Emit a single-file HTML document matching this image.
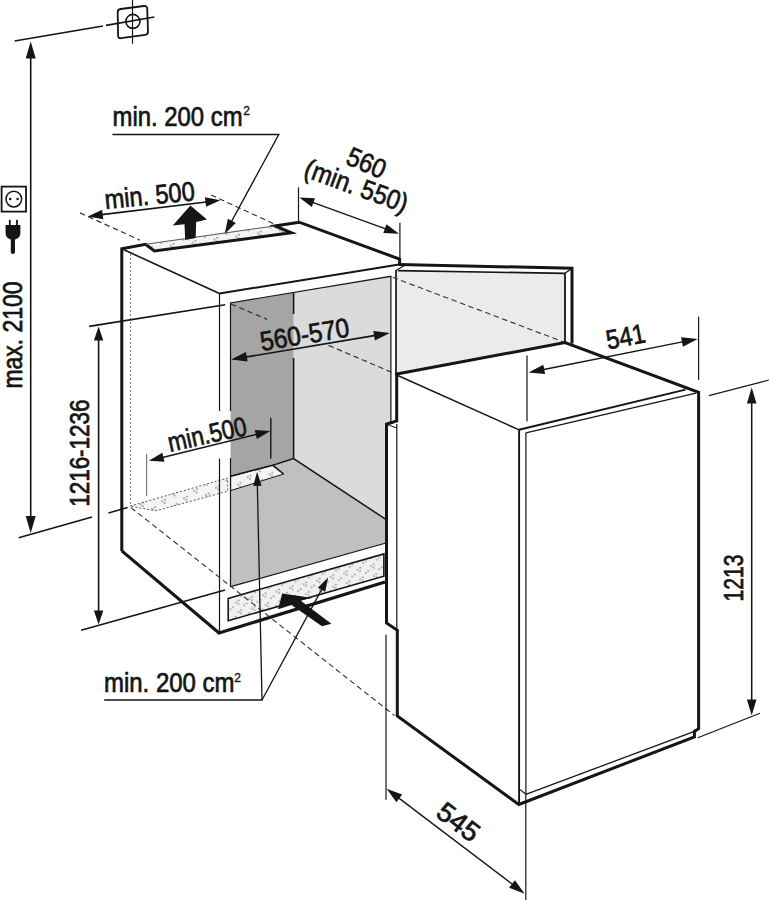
<!DOCTYPE html>
<html><head><meta charset="utf-8"><title>Installation dimensions</title>
<style>
html,body{margin:0;padding:0;background:#fff;}
body{width:769px;height:900px;overflow:hidden;}
svg{display:block;}
text{font-family:"Liberation Sans",sans-serif;font-size:27px;fill:#151515;stroke:#151515;stroke-width:0.7px;}
</style></head>
<body>
<svg width="769" height="900" viewBox="0 0 769 900">
<defs>
<pattern id="dots" width="22" height="12" patternUnits="userSpaceOnUse" patternTransform="rotate(-8)">
<rect width="22" height="12" fill="#f4f4f4"/>
<g fill="#555">
<circle cx="3" cy="3" r="0.75"/><circle cx="6" cy="1.8" r="0.75"/><circle cx="5" cy="5" r="0.75"/>
<circle cx="14" cy="9" r="0.75"/><circle cx="17" cy="7.8" r="0.75"/><circle cx="16" cy="11" r="0.75"/>
</g>
</pattern>
<pattern id="dots2" width="14" height="10" patternUnits="userSpaceOnUse" patternTransform="rotate(-15)">
<rect width="14" height="10" fill="#f0f0f0"/>
<g fill="#555">
<circle cx="2" cy="3" r="0.7"/><circle cx="5" cy="1.8" r="0.7"/><circle cx="4" cy="5" r="0.7"/>
<circle cx="9" cy="8" r="0.7"/><circle cx="12" cy="6.8" r="0.7"/>
</g>
</pattern>
</defs>
<rect width="769" height="900" fill="#fff"/>

<!-- ============ GRAY FILLS ============ -->
<!-- back wall -->
<polygon points="293.6,292.4 390.9,276.3 390.9,522.7 293.6,458.6" fill="#dbdbdb"/>
<!-- left wall -->
<polygon points="230.5,302.9 293.6,292.4 293.6,458.6 230.6,476.3" fill="#a5a5a5"/>
<!-- floor -->
<polygon points="230.6,476.3 293.6,458.6 390.9,522.7 390.9,541.8 230.5,586.7" fill="#c0c0c0"/>
<!-- floor slot -->
<polygon points="230.6,476.3 272.6,465.2 283.6,474 230.6,490.6" fill="url(#dots)" stroke="#151515" stroke-width="1"/>
<!-- door panel -->
<polygon points="396,270.5 565,273.2 565,342.5 396,375" fill="#ebebeb"/>
<!-- plinth slot -->
<polygon points="228.2,598.4 383.9,553.9 383.9,576.2 228.2,620.7" fill="url(#dots2)" stroke="#151515" stroke-width="1.6"/>
<!-- top slot -->
<polygon points="145.5,244.3 274.8,225.9 291.4,232.8 154.4,250.9" fill="url(#dots)"/>
<!-- hidden slot under left panel -->
<polygon points="130.1,506.1 227.7,478 227.7,491.2 155.9,510.8" fill="url(#dots)" stroke="#444" stroke-width="0.9" stroke-dasharray="2 2"/>

<g fill="none" stroke="#151515" stroke-linecap="butt" stroke-linejoin="miter">
<!-- ============ CABINET ============ -->
<!-- thick outline -->
<path d="M121.8,550.9 L121.8,248.8 L145.5,244.3 L154.4,250.9 L291.4,232.8 L274.8,225.9 L299.2,222.2 L399.6,259.1 L399.6,264.3" stroke-width="3"/>
<path d="M121.8,550.9 L219,633 L385,582" stroke-width="3.2"/>
<!-- slot top thin -->
<line x1="145.5" y1="244.3" x2="274.8" y2="225.9" stroke-width="1" stroke="#555"/>
<!-- top face front-left edge -->
<line x1="121.8" y1="248.8" x2="219.5" y2="293.5" stroke-width="1.6"/>
<line x1="219.5" y1="293.5" x2="399" y2="264.5" stroke-width="2"/>
<!-- front frame left -->
<line x1="219.5" y1="293.5" x2="219.5" y2="411" stroke-width="1.2"/>
<line x1="219.5" y1="458.6" x2="219.5" y2="633" stroke-width="1.2"/>
<!-- inner opening -->
<path d="M230.5,411 L230.5,302.9 L390.9,276.3 L390.9,424 M230.5,458 L230.5,586.7" stroke-width="1.2"/>
<line x1="293.6" y1="292.4" x2="293.6" y2="314" stroke-width="1.6"/>
<line x1="293.6" y1="358" x2="293.6" y2="458.6" stroke-width="1.6"/>
<!-- wall/floor edges -->
<path d="M230.6,476.3 L272.6,465.2 M283.6,474 L272.6,465.2 L293.6,458.6 L390.9,522.7" stroke-width="1.5"/>
<line x1="230.5" y1="586.7" x2="386" y2="543" stroke-width="1.2"/>
<!-- hidden edges -->
<line x1="131" y1="507.6" x2="394.5" y2="715.5" stroke-width="1.1" stroke="#333" stroke-dasharray="5.5 3.5"/>
<line x1="130.6" y1="254" x2="130.6" y2="505" stroke="#666" stroke-width="0.9" stroke-dasharray="2 2"/>
<line x1="231" y1="304" x2="267" y2="319.4" stroke-width="1.2" stroke="#333" stroke-dasharray="5.5 3.5"/>
<line x1="328.6" y1="345.4" x2="396.7" y2="374.4" stroke-width="1.2" stroke="#333" stroke-dasharray="5.5 3.5"/>

<!-- ============ DOOR PANEL ============ -->
<path d="M398.6,264.6 L572,268.2 L572,343.6" stroke-width="3"/>
<line x1="398" y1="270.6" x2="565" y2="273.4" stroke-width="1.7"/>
<line x1="395.8" y1="270.6" x2="404.5" y2="265.4" stroke-width="1.2"/>
<line x1="572" y1="268.2" x2="565" y2="273.2" stroke-width="1.4"/>
<line x1="565" y1="273.2" x2="565" y2="342.5" stroke-width="1.8"/>
<line x1="396" y1="270" x2="396" y2="375" stroke-width="1.7"/>
<line x1="392.6" y1="277.3" x2="565" y2="342.5" stroke-width="1.1" stroke="#333" stroke-dasharray="5.5 3.5"/>

<!-- ============ FRIDGE ============ -->
<polygon points="396,375 565,342.5 699,392 698.5,728.7 694.4,736.9 519.1,803.8 397.3,716 397.5,630.3 386.5,623 386.5,424 396.7,421" fill="#fff" stroke="none"/>
<path d="M396.7,374 L565,342.5 L698.6,392.3 L698.6,728.7 L694.4,731.4 L694.4,736.9 L518.8,804.5 L397.3,716 L397.3,630.3 L386.5,623 L386.5,424.2 L396.7,421 L396.7,374" stroke-width="3"/>
<line x1="396.7" y1="375" x2="519" y2="429.8" stroke-width="1.4"/>
<line x1="519" y1="429.8" x2="685.5" y2="389.6" stroke-width="2"/>
<line x1="525.9" y1="432.8" x2="696" y2="393.2" stroke-width="1.2"/>
<line x1="519.1" y1="429.8" x2="519.1" y2="803.8" stroke-width="1.9"/>
<line x1="525.9" y1="432.8" x2="525.9" y2="794.3" stroke-width="1.2"/>
<line x1="525.9" y1="794.3" x2="694.4" y2="731.4" stroke-width="1.3"/>
<line x1="519.1" y1="788.9" x2="525.9" y2="794.3" stroke-width="1.1"/>
<line x1="396.8" y1="424" x2="396.8" y2="630" stroke-width="1.2"/>
<line x1="386.5" y1="424.2" x2="396.8" y2="428" stroke-width="1"/>

<!-- ============ EXTENSION LINES ============ -->
<line x1="14.6" y1="41" x2="103" y2="26" stroke-width="1.6"/>
<line x1="106" y1="25.4" x2="154.4" y2="17" stroke-width="1.6"/>
<line x1="18.7" y1="537.7" x2="92" y2="517" stroke-width="1.6"/>
<line x1="108.4" y1="513" x2="127.6" y2="507.6" stroke-width="1.6"/>
<line x1="89.1" y1="326.4" x2="225.2" y2="304.8" stroke-width="1.6"/>
<line x1="81.1" y1="630.2" x2="225" y2="590" stroke-width="1.6"/>
<line x1="80" y1="212.9" x2="140" y2="240.2" stroke-width="1.2" stroke="#333" stroke-dasharray="5.5 3.5"/>
<line x1="211" y1="195" x2="273.9" y2="223.8" stroke-width="1.2" stroke="#333" stroke-dasharray="5.5 3.5"/>
<line x1="298.5" y1="187.3" x2="298.5" y2="221" stroke-width="1.2"/>
<line x1="399.9" y1="222.8" x2="399.9" y2="259" stroke-width="1.2"/>
<line x1="146.6" y1="454" x2="146.6" y2="496" stroke="#777" stroke-width="1.2"/>
<line x1="270.8" y1="417.7" x2="270.8" y2="458.6" stroke-width="1.4"/>
<line x1="527" y1="355.5" x2="527" y2="421.5" stroke-width="1.2"/>
<line x1="698.6" y1="316.8" x2="698.6" y2="380" stroke-width="1.2"/>
<line x1="708.9" y1="395.6" x2="768.9" y2="380" stroke-width="1.2"/>
<line x1="697.8" y1="737.8" x2="760" y2="713.3" stroke-width="1.2"/>
<line x1="386" y1="634.7" x2="386" y2="799.8" stroke-width="1.2"/>
<line x1="525.8" y1="794" x2="525.8" y2="900" stroke-width="1.2"/>
</g>

<g fill="#151515" stroke="none">
<polygon points="190.4,205.4 206.9,219.4 196.2,222 195.6,237.9 185.2,239.9 184.5,224.3 172.8,225.6"/>
<polygon points="282.2,593.4 278.1,609.2 291.5,604.9 322,626.2 331.4,623.8 299.8,600 312.7,598.1"/>
</g>


<!-- ============ SYMBOLS ============ -->
<g fill="none" stroke="#151515">
<path d="M120.6,9 L144,6 Q147,5.6 147.2,8.6 L148,31.5 Q148.1,34.4 145.2,34.8 L121,38.2 Q118.2,38.6 118.1,35.6 L117.7,12.2 Q117.6,9.4 120.6,9 Z" stroke-width="1.8"/>
<circle cx="132.9" cy="21.4" r="7" stroke-width="1.6"/>
<line x1="132.5" y1="0" x2="132.5" y2="43.7" stroke-width="1.2"/>
<rect x="1.6" y="186.6" width="24.4" height="25" stroke-width="1.8"/>
<circle cx="13.8" cy="199.1" r="7.8" stroke-width="1.5"/>
</g>
<g fill="#151515">
<circle cx="10.2" cy="199" r="1.3"/>
<circle cx="17.6" cy="199" r="1.3"/>
<rect x="8.9" y="219.8" width="1.8" height="6"/>
<rect x="16.1" y="219.8" width="1.8" height="6"/>
<path d="M5.6,225 L20.4,225 L20.4,233 Q20.4,238 15,239.5 L15,252 Q15,254 12.8,254 Q10.8,254 10.8,252 L10.8,239.5 Q5.6,238 5.6,233 Z"/>
</g>


<line x1="30.7" y1="55.6" x2="30.7" y2="519.0" stroke="#151515" stroke-width="1.6"/><polygon points="30.7,41.6 25.7,58.6 35.7,58.6" fill="#151515"/><polygon points="30.7,533.0 35.7,516.0 25.7,516.0" fill="#151515"/>
<line x1="98.6" y1="337.4" x2="98.6" y2="613.4" stroke="#151515" stroke-width="1.6"/><polygon points="98.6,326.4 93.9,340.4 103.3,340.4" fill="#151515"/><polygon points="98.6,624.4 103.3,610.4 93.9,610.4" fill="#151515"/>
<line x1="99.7" y1="214.9" x2="208.5" y2="201.7" stroke="#151515" stroke-width="1.6"/><polygon points="87.8,216.4 103.3,219.3 102.1,209.8" fill="#151515"/><polygon points="220.4,200.2 204.9,197.3 206.1,206.8" fill="#151515"/>
<line x1="310.6" y1="201.6" x2="387.7" y2="229.7" stroke="#151515" stroke-width="1.4"/><polygon points="299.3,197.5 311.8,207.0 315.0,198.3" fill="#151515"/><polygon points="399.0,233.8 386.5,224.3 383.3,233.0" fill="#151515"/>
<line x1="243.8" y1="357.4" x2="377.1" y2="335.1" stroke="#151515" stroke-width="1.6"/><polygon points="231.0,359.5 247.6,361.6 246.0,352.1" fill="#151515"/><polygon points="389.9,333.0 373.3,330.9 374.9,340.4" fill="#151515"/>
<line x1="160.5" y1="457.9" x2="258.7" y2="433.9" stroke="#151515" stroke-width="1.5"/><polygon points="148.8,460.8 164.5,461.7 162.3,452.8" fill="#151515"/><polygon points="270.4,431.0 254.7,430.1 256.9,439.0" fill="#151515"/>
<line x1="541.3" y1="370.0" x2="684.9" y2="341.4" stroke="#151515" stroke-width="1.4"/><polygon points="528.5,372.5 545.1,374.1 543.3,364.7" fill="#151515"/><polygon points="697.7,338.9 681.1,337.3 682.9,346.7" fill="#151515"/>
<line x1="751.7" y1="400.6" x2="751.7" y2="702.6" stroke="#151515" stroke-width="1.5"/><polygon points="751.7,387.6 746.9,403.6 756.5,403.6" fill="#151515"/><polygon points="751.7,715.6 756.5,699.6 746.9,699.6" fill="#151515"/>
<line x1="396.9" y1="796.6" x2="514.4" y2="885.8" stroke="#151515" stroke-width="1.4"/><polygon points="386.6,788.7 396.4,802.2 402.2,794.6" fill="#151515"/><polygon points="524.7,893.7 514.9,880.2 509.1,887.8" fill="#151515"/>
<path d="M112.4,134.5 L278.8,134.5 L230.4,223.5" fill="none" stroke="#151515" stroke-width="1.4"/><polygon points="224.7,234.0 235.8,223.0 227.9,218.7" fill="#151515"/>
<path d="M104.2,700.0 L262.0,700.0 L257.3,482.8" fill="none" stroke="#151515" stroke-width="1.3"/><polygon points="257.1,471.8 253.2,485.9 261.6,485.7" fill="#151515"/>
<path d="M262.0,700.0 L322.9,587.1" fill="none" stroke="#151515" stroke-width="1.3"/><polygon points="328.1,577.4 317.8,587.7 325.2,591.7" fill="#151515"/>
<text x="112.6" y="126" textLength="130" lengthAdjust="spacingAndGlyphs" style="font-size:27px">min. 200 cm</text>
<text x="243.3" y="114.9" style="font-size:12px;stroke-width:0.35px">2</text>
<text x="104" y="692.4" textLength="130.5" lengthAdjust="spacingAndGlyphs" style="font-size:27px">min. 200 cm</text>
<text x="234.3" y="681.8" style="font-size:12px;stroke-width:0.35px">2</text>
<text x="21.7" y="388.5" transform="rotate(-90 21.7 388.5)" textLength="107" lengthAdjust="spacingAndGlyphs" style="font-size:27px">max. 2100</text>
<text x="89.4" y="506.8" transform="rotate(-90 89.4 506.8)" textLength="107.3" lengthAdjust="spacingAndGlyphs" style="font-size:27px">1216-1236</text>
<text x="742.5" y="601.5" transform="rotate(-90 742.5 601.5)" textLength="47" lengthAdjust="spacingAndGlyphs" style="font-size:27px">1213</text>
<text x="105.4" y="209" transform="rotate(-5.5 105.4 209)" textLength="90.5" lengthAdjust="spacingAndGlyphs" style="font-size:27px">min. 500</text>
<text x="261.8" y="351" transform="rotate(-9.5 261.8 351)" textLength="90" lengthAdjust="spacingAndGlyphs" style="font-size:27px">560-570</text>
<text x="170" y="452" transform="rotate(-12.5 170 452)" textLength="80" lengthAdjust="spacingAndGlyphs" style="font-size:27px">min.500</text>
<text x="344.5" y="163.5" transform="rotate(23 344.5 163.5)" textLength="40" lengthAdjust="spacingAndGlyphs" style="font-size:27px">560</text>
<text x="302.5" y="176" transform="rotate(20 302.5 176)" textLength="108" lengthAdjust="spacingAndGlyphs" style="font-size:27px">(min. 550)</text>
<text x="608" y="349.5" transform="rotate(-11 608 349.5)" textLength="39.5" lengthAdjust="spacingAndGlyphs" style="font-size:27px">541</text>
<text x="434.5" y="815.5" transform="rotate(37 434.5 815.5)" textLength="46" lengthAdjust="spacingAndGlyphs" style="font-size:27px">545</text>
</svg>
</body></html>
